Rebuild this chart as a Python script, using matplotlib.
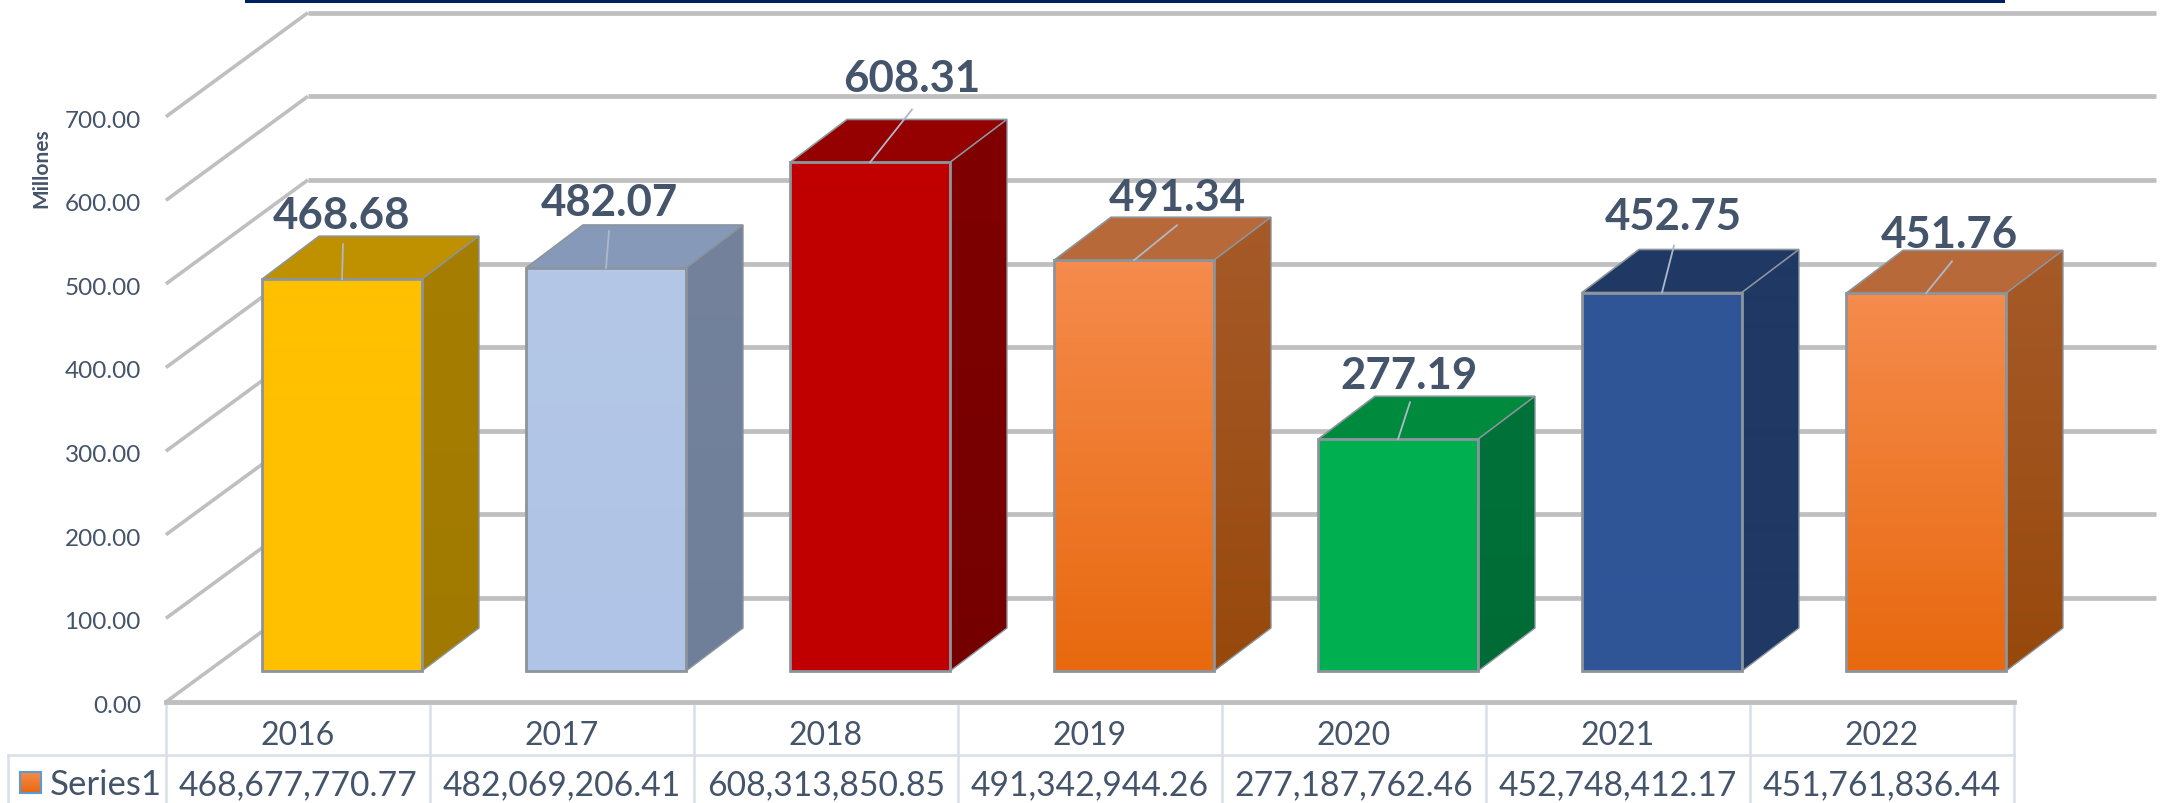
import matplotlib
matplotlib.use("Agg")
import matplotlib.pyplot as plt
from matplotlib.patches import Polygon, Rectangle
import numpy as np

plt.rcParams['font.family'] = ['Lato', 'DejaVu Sans']

years = ['2016', '2017', '2018', '2019', '2020', '2021', '2022']
values = [468.68, 482.07, 608.31, 491.34, 277.19, 452.75, 451.76]
table_values = ['468,677,770.77', '482,069,206.41', '608,313,850.85', '491,342,944.26',
                '277,187,762.46', '452,748,412.17', '451,761,836.44']
y_ticks = [0, 100, 200, 300, 400, 500, 600, 700]

# front, top and side colours; two front colours make a vertical gradient
bar_colors = [
    ('#FFC000', '#FFC000', '#BF9000', '#A67E00', '#A07A00'),
    ('#B4C7E7', '#AFC4E6', '#8699B8', '#74829C', '#6F7F9A'),
    ('#C00000', '#C00000', '#950000', '#800000', '#750000'),
    ('#F58B4C', '#E8690F', '#B8693A', '#A65A28', '#97490C'),
    ('#00B050', '#00B050', '#008A3E', '#00723A', '#006B35'),
    ('#2F5597', '#2F5597', '#203864', '#203864', '#1F3864'),
    ('#F58B4C', '#E8690F', '#B8693A', '#A65A28', '#97490C'),
]
# pixel offsets from the middle of each bar's top edge
label_offsets = [(0, 64), (3, 66), (42, 84), (43, 63), (11, 64), (11, 77), (23, 59)]
leader_offsets = [(1, 35), (3, 37), (42, 53), (43, 35), (12, 37), (12, 47), (26, 32)]

TEXT = '#44546A'
GRID = '#BFBFBF'
TABLE_LINE = '#D9DFE8'
EDGE = '#8C949C'

PX_X = 264.0   # pixels per category
PX_Y = 0.836   # pixels per value unit
BAR_W = 160 / PX_X
BAR_DX = 57 / PX_X
BAR_DY = 43 / PX_Y
WALL_DX = 142 / PX_X
WALL_DY = 104 / PX_Y
FRONT_X = -0.667
FRONT_Y = -37.0
ROW_1 = -100.5
ROW_2 = -157.9

fig = plt.figure(figsize=(21.64, 8.04), dpi=100)
ax = fig.add_axes([0, 0, 1, 1])
ax.axis('off')
xlim = (-342 / PX_X, (2164 - 342) / PX_X)
ylim = (-132 / PX_Y, 672 / PX_Y)

# navy strip on top
ax.add_patch(Rectangle((245 / 2164, 1 - 4 / 804), 1760 / 2164, 4 / 804,
                       transform=ax.transAxes, color='#002060', lw=0, zorder=5))

# gridlines: side wall and back wall
back_end = FRONT_X + 7 + WALL_DX
for t in y_ticks:
    y0 = FRONT_Y + t
    ax.plot([FRONT_X, FRONT_X + WALL_DX], [y0, y0 + WALL_DY],
            color=GRID, lw=2.6, solid_capstyle='butt', zorder=1)
    ax.plot([FRONT_X + WALL_DX, back_end], [y0 + WALL_DY, y0 + WALL_DY],
            color=GRID, lw=3.4, solid_capstyle='butt', zorder=1)
    ax.text(FRONT_X - 25 / PX_X, y0 - 4, f'{t:.2f}', ha='right', va='center',
            fontsize=17.5, color=TEXT)

ax.text(41 / PX_X + xlim[0], FRONT_Y + 700 - 60, 'Millones', rotation=90, ha='center',
        va='center', fontsize=15, fontweight='bold', color=TEXT)

# floor front edge
ax.plot([FRONT_X, FRONT_X + 7], [FRONT_Y, FRONT_Y], color=GRID, lw=3.5, zorder=2)


def gradient(c1, c2, extent, clip=None, zorder=3):
    c1 = np.array(matplotlib.colors.to_rgb(c1))
    c2 = np.array(matplotlib.colors.to_rgb(c2))
    f = np.linspace(0, 1, 64)[:, None, None]
    img = c1[None, None, :] * (1 - f) + c2[None, None, :] * f
    im = ax.imshow(img, extent=extent, origin='upper', aspect='auto', zorder=zorder)
    if clip is not None:
        im.set_clip_path(clip)


# bars
for i, v in enumerate(values):
    front1, front2, top, side1, side2 = bar_colors[i]
    x0 = i - BAR_W / 2
    x1 = i + BAR_W / 2
    gradient(front1, front2, [x0, x1, 0, v])
    ax.bar(i, v, width=BAR_W, facecolor='none', edgecolor=EDGE, lw=2, zorder=4)

    top_face = Polygon([(x0, v), (x1, v), (x1 + BAR_DX, v + BAR_DY), (x0 + BAR_DX, v + BAR_DY)],
                       closed=True, facecolor=top, edgecolor=EDGE, lw=1.2, zorder=3)
    ax.add_patch(top_face)

    side_pts = [(x1, 0), (x1 + BAR_DX, BAR_DY), (x1 + BAR_DX, v + BAR_DY), (x1, v)]
    side_face = Polygon(side_pts, closed=True, facecolor='none', edgecolor=EDGE, lw=1.0, zorder=3.5)
    ax.add_patch(side_face)
    gradient(side1, side2, [x1, x1 + BAR_DX, 0, v + BAR_DY], clip=side_face, zorder=3)

    # data label and leader line
    ox, oy = label_offsets[i]
    lx, ly = leader_offsets[i]
    ax.plot([i, i + lx / PX_X], [v, v + ly / PX_Y], color='#ADB9CA', lw=1.3, zorder=6)
    ax.text(i + ox / PX_X, v + oy / PX_Y, f'{v:.2f}', ha='center', va='center',
            fontsize=31.5, fontweight='bold', color=TEXT, zorder=7)

# data table
left_x = xlim[0] + 8 / PX_X
for k in range(8):
    ax.plot([FRONT_X + k, FRONT_X + k], [FRONT_Y, ROW_2], color=TABLE_LINE, lw=1.8, zorder=1)
ax.plot([left_x, FRONT_X + 7], [ROW_1, ROW_1], color=TABLE_LINE, lw=1.8, zorder=1)
ax.plot([left_x, left_x], [ROW_1, ROW_2], color=TABLE_LINE, lw=1.8, zorder=1)
for i in range(7):
    cx = FRONT_X + i + 0.5
    ax.text(cx, (FRONT_Y + ROW_1) / 2 - 8, years[i], ha='center', va='center',
            fontsize=23, color=TEXT)
    ax.text(cx, (ROW_1 + ROW_2) / 2 - 6, table_values[i], ha='center', va='center',
            fontsize=24.2, color=TEXT)

# legend key
key_x = xlim[0] + 20 / PX_X
key_top = ROW_1 - 17 / PX_Y
key_bottom = ROW_1 - 38 / PX_Y
gradient('#F58B4C', '#E8690F', [key_x, key_x + 21 / PX_X, key_bottom, key_top], zorder=3)
ax.add_patch(Rectangle((key_x, key_bottom), 21 / PX_X, key_top - key_bottom, facecolor='none',
                       edgecolor='#5B9BD5', lw=1.5, zorder=4))
ax.text(xlim[0] + 50 / PX_X, (ROW_1 + ROW_2) / 2 - 6, 'Series1', ha='left', va='center',
        fontsize=25, color=TEXT)

ax.set_xlim(*xlim)
ax.set_ylim(*ylim)
fig.savefig('out.png', dpi=100, facecolor='white')
